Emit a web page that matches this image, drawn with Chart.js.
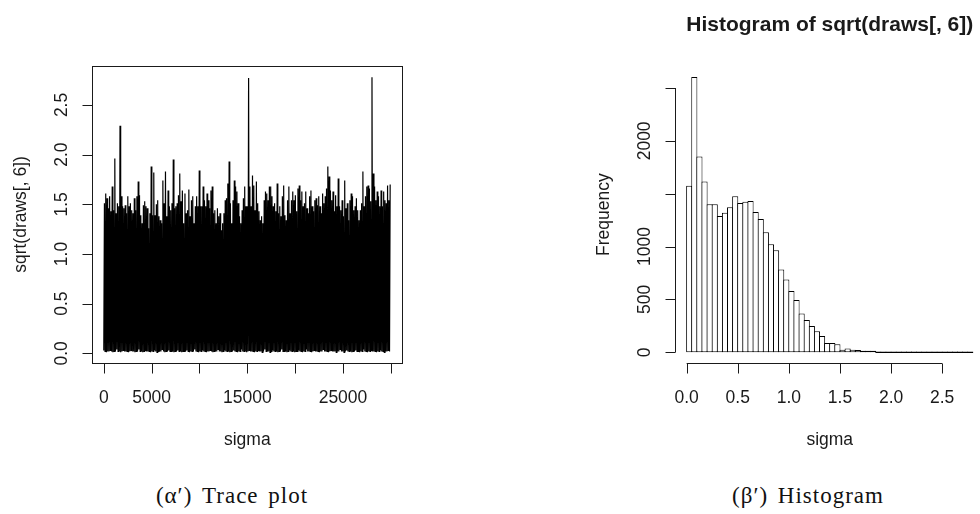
<!DOCTYPE html>
<html>
<head>
<meta charset="utf-8">
<script src="https://cdn.jsdelivr.net/npm/chart.js@4.4.1/dist/chart.umd.min.js"></script>
<style>
    html, body { margin: 0; padding: 0; background: #fff; }
    #page { position: relative; width: 980px; height: 514px; overflow: hidden; background: #fff; }
    #trace { position: absolute; left: 0; top: 0; }
    #hist { position: absolute; left: 540px; top: 0; }
    .cap {
        position: absolute; top: 483px; transform: translateX(-50%);
        font: 23px "Liberation Serif", "DejaVu Serif", serif; line-height: 26px;
        white-space: nowrap; color: #111; word-spacing: 3px; letter-spacing: 1px;
    }
</style>
</head>
<body>
<div id="page">
    <canvas id="trace" width="440" height="470"></canvas>
    <canvas id="hist" width="460" height="470"></canvas>
    <div class="cap" style="left:232px">(α′) Trace plot</div>
    <div class="cap" style="left:808px">(β′) Histogram</div>
</div>
<script>
// MCMC draws of sigma, shown per block of iterations as the highest and lowest value reached
const nDraws = 30000;
const traceHigh = [
    1.51, 1.61, 1.56, 1.46, 1.58, 1.43, 1.68, 1.44, 1.96, 1.41, 1.51, 1.48, 2.29, 1.58, 1.48, 1.46, 1.49, 1.41, 1.58, 1.48,
    1.51, 1.44, 1.41, 1.56, 1.44, 1.58, 1.73, 1.59, 1.39, 1.31, 1.49, 1.53, 1.48, 1.46, 1.26, 1.41, 1.88, 1.39, 1.82, 1.39,
    1.50, 1.54, 1.38, 1.34, 1.31, 1.74, 1.51, 1.83, 1.38, 1.64, 1.48, 1.44, 1.51, 1.95, 1.46, 1.48, 1.51, 1.59, 1.81, 1.53,
    1.64, 1.31, 1.61, 1.41, 1.44, 1.65, 1.38, 1.54, 1.58, 1.31, 1.48, 1.58, 1.48, 1.84, 1.48,
    1.48, 1.68, 1.54, 1.48, 1.61, 1.54, 1.46, 1.64, 1.68, 1.41, 1.44, 1.31, 1.46, 1.38, 1.41, 1.24, 1.31, 1.41, 1.54, 1.56,
    1.71, 1.93, 1.51, 1.31, 1.54, 1.74, 1.68, 1.63, 1.51, 1.38, 1.31, 1.44, 1.56, 1.68, 1.48, 1.48, 2.77, 1.68, 1.48, 1.79,
    1.69, 1.44, 1.73, 1.51, 1.43, 1.34, 1.38, 1.31, 1.54, 1.63, 1.61, 1.54, 1.68, 1.68, 1.58, 1.48, 1.51, 1.43, 1.71, 1.41,
    1.48, 1.38, 1.58, 1.69, 1.39, 1.34, 1.54, 1.68, 1.41, 1.54, 1.63, 1.54, 1.59, 1.43, 1.66, 1.69, 1.54, 1.63, 1.48,
    1.51, 1.63, 1.46, 1.41, 1.58, 1.64, 1.48, 1.43, 1.54, 1.56, 1.49, 1.58, 1.48, 1.41, 1.61, 1.51, 1.58, 1.66, 1.88, 1.78,
    1.64, 1.54, 1.63, 1.43, 1.59, 1.48, 1.76, 1.48, 1.44, 1.54, 1.38, 1.74, 1.46, 1.51, 1.34, 1.54, 1.61, 1.58, 1.44, 1.48,
    1.56, 1.44, 1.34, 1.44, 1.51, 1.83, 1.48, 1.58, 1.68, 1.69, 1.66, 1.53, 2.78, 1.81, 1.68, 1.54, 1.63, 1.58, 1.48, 1.64,
    1.48, 1.63, 1.54, 1.51, 1.69, 1.54, 1.70
];
const traceLow = [
    0.03, 0.02, 0.01, 0.02, 0.02, 0.03, 0.02, 0.01, 0.02, 0.02, 0.04, 0.02, 0.02, 0.01, 0.02, 0.03, 0.02, 0.02, 0.02, 0.01,
    0.02, 0.03, 0.02, 0.02, 0.01, 0.02, 0.02, 0.04, 0.02, 0.02, 0.01, 0.02, 0.03, 0.02, 0.02, 0.02, 0.01, 0.02, 0.02, 0.03,
    0.02, 0.01, 0.02, 0.02, 0.02, 0.04, 0.02, 0.01, 0.02, 0.02, 0.03, 0.02, 0.02, 0.02, 0.01, 0.02, 0.02, 0.03, 0.02, 0.02,
    0.01, 0.02, 0.02, 0.02, 0.03, 0.02, 0.01, 0.02, 0.02, 0.02, 0.04, 0.02, 0.02, 0.01, 0.02, 0.02, 0.03, 0.02, 0.02, 0.01,
    0.02, 0.02, 0.03, 0.02, 0.01, 0.02, 0.02, 0.02, 0.04, 0.02, 0.02, 0.01, 0.02, 0.03, 0.02, 0.02, 0.02, 0.01, 0.02, 0.02,
    0.03, 0.02, 0.02, 0.01, 0.02, 0.02, 0.04, 0.02, 0.02, 0.02, 0.01, 0.02, 0.03, 0.02, 0.02, 0.02, 0.01, 0.02, 0.02, 0.03,
    0.02, 0.02, 0.01, 0.02, 0.04, 0.02, 0.02, 0.02, 0.01, 0.02, 0.03, 0.02, 0.02, 0.02, 0.01, 0.02, 0.02, 0.04, 0.02, 0.02,
    0.02, 0.01, 0.02, 0.03, 0.02, 0.02, 0.02, 0.01, 0.02, 0.02, 0.03, 0.02, 0.02, 0.01, 0.02, 0.02, 0.04, 0.02, 0.02, 0.02,
    0.01, 0.02, 0.03, 0.02, 0.02, 0.02, 0.01, 0.02, 0.02, 0.04, 0.02, 0.02, 0.02, 0.01, 0.02, 0.03, 0.02, 0.02, 0.02, 0.01,
    0.02, 0.02, 0.04, 0.02, 0.02, 0.01, 0.02, 0.03, 0.02, 0.02, 0.02, 0.01, 0.02, 0.02, 0.03, 0.02, 0.02, 0.01, 0.02, 0.02,
    0.04, 0.02, 0.02, 0.01, 0.02, 0.02, 0.03, 0.02, 0.02, 0.02, 0.01, 0.02, 0.02, 0.03, 0.02, 0.02, 0.01, 0.02, 0.02, 0.03,
    0.02
];

// histogram of the same draws, bins of width 0.05 from 0 to 2.8
const binWidth = 0.05;
const histCounts = [
    1575, 2604, 1852, 1615, 1401, 1401, 1290, 1319, 1372, 1476,
    1413, 1423, 1432, 1328, 1262, 1136, 1022, 965, 782, 688,
    580, 495, 366, 306, 248, 200, 153, 87, 87, 75,
    25, 35, 25, 22, 13, 6, 13, 0, 0, 0,
    0, 0, 0, 0, 0, 0, 0, 0, 0, 0,
    0, 0, 0, 0, 0, 0
];

const traceXTicks = [0, 5000, 10000, 15000, 20000, 25000, 30000];
const traceXLabels = ['0', '5000', '', '15000', '', '25000', ''];
const traceYTicks = [0, 0.5, 1, 1.5, 2, 2.5];
const traceYLabels = ['0.0', '0.5', '1.0', '1.5', '2.0', '2.5'];
const histXTicks = [0, 0.5, 1, 1.5, 2, 2.5];
const histXLabels = ['0.0', '0.5', '1.0', '1.5', '2.0', '2.5'];
const histYTicks = [0, 500, 1000, 1500, 2000, 2500];
const histYLabels = ['0', '500', '1000', '', '2000', ''];

const FONT = '"Liberation Sans", Arial, sans-serif';
const INK = '#1a1a1a';

// base-graphics look: axis line only between the outer ticks, ticks pointing out, rotated y labels
const baseAxes = {
    id: 'baseAxes',
    afterDraw(chart, args, opts) {
        const { ctx, chartArea: area, scales: { x, y } } = chart;
        const crisp = v => Math.round(v) + 0.5;
        ctx.save();
        ctx.strokeStyle = INK;
        ctx.fillStyle = INK;
        ctx.lineWidth = 1;

        if (opts.box) {
            ctx.strokeRect(crisp(area.left), crisp(area.top),
                Math.round(area.right) - Math.round(area.left), Math.round(area.bottom) - Math.round(area.top));
        }

        // bottom axis
        const xs = opts.xTicks.map(v => x.getPixelForValue(v));
        const yb = crisp(area.bottom);
        ctx.beginPath();
        ctx.moveTo(xs[0], yb);
        ctx.lineTo(xs[xs.length - 1], yb);
        xs.forEach(px => { ctx.moveTo(crisp(px), yb); ctx.lineTo(crisp(px), yb + 10); });
        ctx.stroke();
        ctx.font = '17.5px ' + FONT;
        ctx.textAlign = 'center';
        ctx.textBaseline = 'alphabetic';
        xs.forEach((px, i) => {
            if (opts.xLabels[i]) ctx.fillText(opts.xLabels[i], px, area.bottom + 39.5);
        });

        // left axis
        const ys = opts.yTicks.map(v => y.getPixelForValue(v));
        const xl = crisp(area.left);
        ctx.beginPath();
        ctx.moveTo(xl, ys[0]);
        ctx.lineTo(xl, ys[ys.length - 1]);
        ys.forEach(py => { ctx.moveTo(xl, crisp(py)); ctx.lineTo(xl - 10, crisp(py)); });
        ctx.stroke();
        ys.forEach((py, i) => {
            if (!opts.yLabels[i]) return;
            ctx.save();
            ctx.translate(area.left - 25, py);
            ctx.rotate(-Math.PI / 2);
            ctx.fillText(opts.yLabels[i], 0, 0);
            ctx.restore();
        });

        // axis titles
        const midX = (area.left + area.right) / 2;
        const midY = (area.top + area.bottom) / 2;
        ctx.fillText(opts.xTitle, midX, area.bottom + 82);
        ctx.save();
        ctx.translate(area.left - 66.5, midY);
        ctx.rotate(-Math.PI / 2);
        ctx.fillText(opts.yTitle, 0, 0);
        ctx.restore();

        if (opts.title) {
            ctx.font = 'bold 21px ' + FONT;
            ctx.fillText(opts.title, midX, 31);
        }
        ctx.restore();
    }
};

const quiet = {
    animation: false,
    responsive: false,
    events: [],
    plugins: { legend: { display: false }, tooltip: { enabled: false } }
};

// trace: zig-zag through each block's low and high so the band fills in like the dense line
const step = nDraws / traceHigh.length;
const tracePoints = [];
traceHigh.forEach((h, i) => {
    tracePoints.push({ x: i * step, y: traceLow[i] });
    tracePoints.push({ x: i * step + step / 2, y: h });
});

new Chart(document.getElementById('trace'), {
    type: 'line',
    data: {
        datasets: [{
            data: tracePoints,
            borderColor: '#000',
            borderWidth: 1.2,
            pointRadius: 0,
            tension: 0,
            fill: false
        }]
    },
    options: {
        ...quiet,
        layout: { padding: { left: 92.3, top: 65.7, right: 37.7, bottom: 106.7 } },
        scales: {
            x: { type: 'linear', display: false, min: -1200, max: 31200 },
            y: { type: 'linear', display: false, min: -0.1, max: 2.895 }
        },
        plugins: {
            ...quiet.plugins,
            baseAxes: {
                box: true,
                xTicks: traceXTicks, xLabels: traceXLabels,
                yTicks: traceYTicks, yLabels: traceYLabels,
                xTitle: 'sigma', yTitle: 'sqrt(draws[, 6])'
            }
        }
    },
    plugins: [baseAxes]
});

const histMax = Math.max(...histCounts);
new Chart(document.getElementById('hist'), {
    type: 'bar',
    data: {
        datasets: [{
            data: histCounts.map((c, k) => ({ x: (k + 0.5) * binWidth, y: c })),
            backgroundColor: '#fff',
            borderColor: '#000',
            borderWidth: 1,
            borderSkipped: false,
            barPercentage: 1.2,
            categoryPercentage: 1,
            minBarLength: 1.5
        }]
    },
    options: {
        ...quiet,
        layout: { padding: { left: 135.2, top: 66, right: 15.7, bottom: 106.7 } },
        scales: {
            x: { type: 'linear', display: false, offset: false, min: -0.112, max: 2.912 },
            y: { type: 'linear', display: false, min: -0.04 * histMax, max: 1.04 * histMax }
        },
        plugins: {
            ...quiet.plugins,
            baseAxes: {
                box: false,
                xTicks: histXTicks, xLabels: histXLabels,
                yTicks: histYTicks, yLabels: histYLabels,
                xTitle: 'sigma', yTitle: 'Frequency',
                title: 'Histogram of sqrt(draws[, 6])'
            }
        }
    },
    plugins: [baseAxes]
});
</script>
</body>
</html>
